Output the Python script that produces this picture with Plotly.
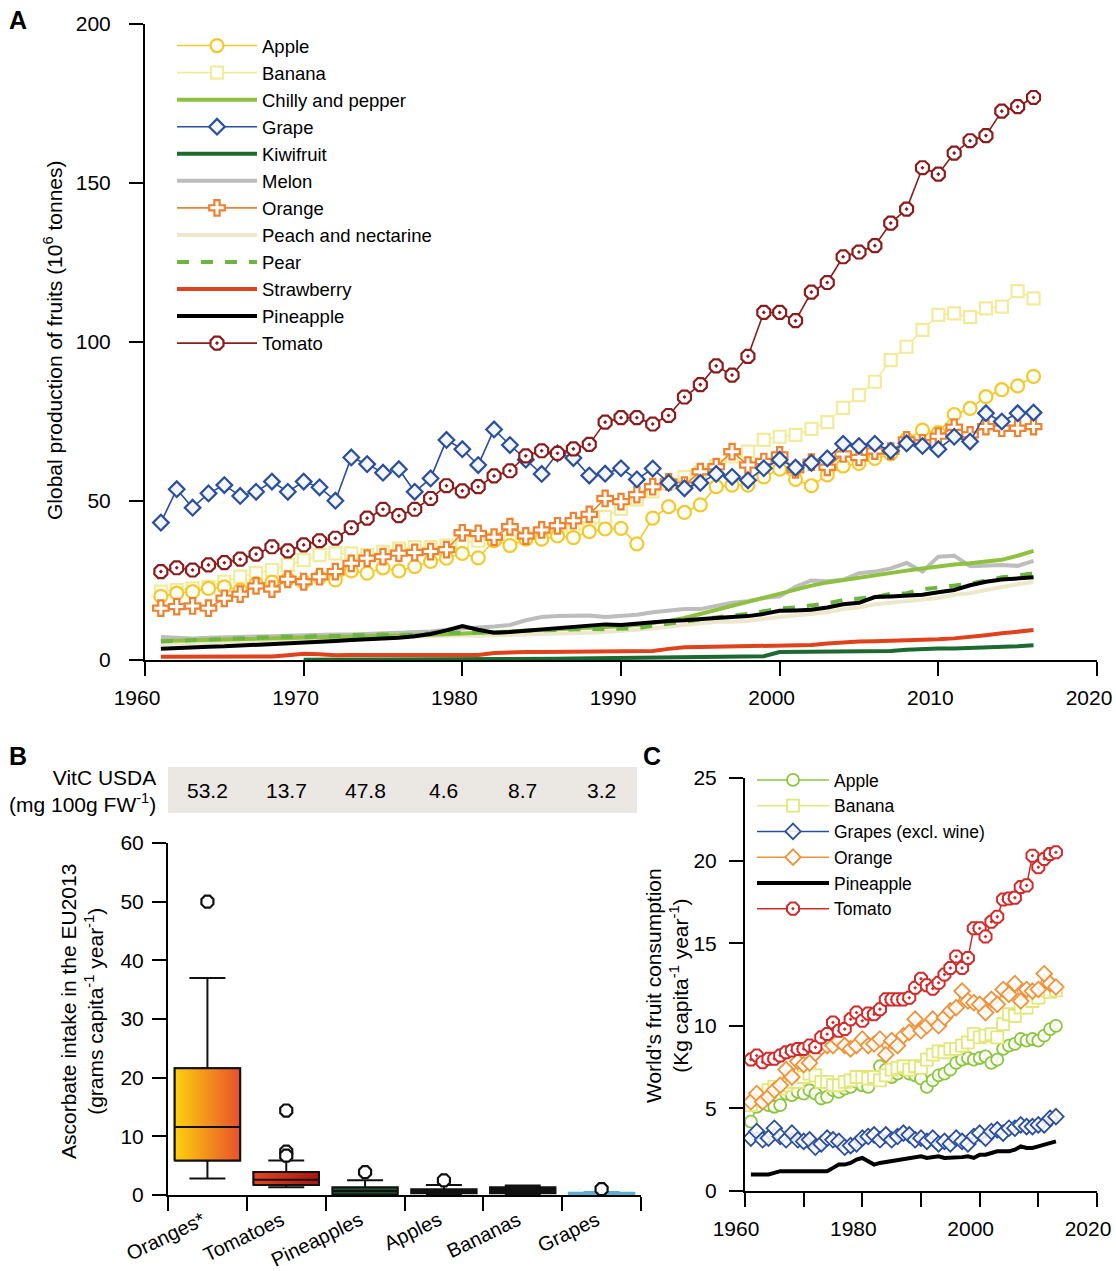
import plotly.graph_objects as go

# ---------------- DATA ----------------
years_a = list(range(1961, 2017))
apple_a = [20.0, 21.0, 21.5, 22.5, 23.0, 22.0, 24.0, 24.5, 25.5, 24.5,
           26.0, 25.2, 28.0, 27.3, 29.0, 28.0, 29.4, 31.0, 32.0, 33.5,
           32.1, 37.5, 36.0, 38.0, 38.0, 39.0, 38.5, 40.4, 41.2, 41.4,
           36.5, 44.6, 48.2, 46.4, 48.8, 54.5, 55.0, 55.0, 57.6, 60.0,
           56.8, 54.8, 58.2, 61.0, 61.8, 63.4, 64.8, 69.4, 72.3, 71.5,
           77.2, 79.1, 82.8, 85.0, 86.2, 89.2]
banana_a = [21.5, 22.0, 22.5, 23.0, 24.6, 26.2, 27.3, 28.3, 29.9, 31.4,
            33.0, 33.5, 33.5, 33.0, 34.0, 35.0, 35.5, 35.5, 36.0, 37.0,
            37.5, 38.0, 37.2, 38.5, 39.0, 40.0, 41.0, 41.5, 45.0, 47.5,
            50.5, 53.0, 55.5, 57.5, 59.0, 61.0, 64.0, 65.5, 69.2, 70.2,
            70.8, 72.7, 74.8, 79.3, 83.3, 87.5, 94.3, 98.5, 103.8, 108.5,
            109.0, 107.8, 110.6, 111.1, 116.0, 113.7]
chilly_a = [6.0, 6.1, 6.2, 6.3, 6.4, 6.5, 6.6, 6.7, 6.8, 6.9,
            7.0, 7.1, 7.2, 7.3, 7.5, 7.6, 7.7, 7.9, 8.1, 8.3,
            8.5, 8.7, 8.9, 9.1, 9.3, 9.5, 9.7, 10.0, 10.3, 10.6,
            11.0, 11.5, 12.3, 13.2, 14.5, 15.8, 17.0, 18.3, 19.8, 21.0,
            22.3, 23.4, 24.4, 25.2, 26.0, 26.8, 27.5, 28.1, 28.8, 29.5,
            30.0, 30.4, 30.9, 31.5, 32.8, 34.3]
grape_a = [43.2, 53.7, 47.9, 52.4, 55.0, 51.6, 52.9, 56.1, 52.9, 56.1,
           54.3, 50.1, 63.7, 61.6, 58.9, 60.0, 52.9, 57.1, 69.2, 66.3,
           61.3, 72.5, 67.6, 63.0, 58.5, 65.0, 63.5, 58.0, 58.6, 60.3,
           56.8, 60.2, 55.7, 54.0, 55.7, 58.5, 57.6, 56.5, 60.3, 63.0,
           60.5, 62.0, 63.4, 68.0, 67.3, 68.0, 65.8, 68.1, 67.3, 66.3,
           70.2, 68.7, 77.6, 75.0, 77.6, 77.8]
kiwi_a = [None, None, None, None, None, None, None, None, None,
          0.1, 0.1, 0.1, 0.1, 0.1, 0.1, 0.1, 0.15, 0.15, 0.2,
          0.2, 0.2, 0.25, 0.3, 0.3, 0.35, 0.4, 0.45, 0.5, 0.55,
          0.6, 0.65, 0.7, 1.0, 1.0, 1.1, 1.1, 1.1, 1.2, 1.2,
          2.5, 2.5, 2.6, 2.6, 2.6, 2.7, 2.7, 2.8, 3.2, 3.5,
          3.6, 3.6, 3.7, 3.9, 4.1, 4.3, 4.6]
melon_a = [7.2, 7.0, 6.8, 7.0, 7.2, 7.3, 7.5, 7.5, 7.6, 7.8,
           7.8, 8.0, 8.0, 8.2, 8.3, 8.5, 8.8, 9.0, 9.5, 10.0,
           10.2, 10.5, 11.0, 12.5, 13.5, 13.8, 13.8, 14.0, 13.5, 13.8,
           14.2, 15.0, 15.5, 16.0, 16.0, 17.0, 18.0, 18.5, 19.5, 20.0,
           23.0, 25.0, 24.8, 25.2, 27.3, 27.8, 28.8, 30.5, 27.8, 32.5,
           32.8, 29.5, 29.8, 29.9, 29.6, 31.2]
orange_a = [16.3, 16.8, 17.0, 16.3, 19.4, 20.7, 23.3, 22.3, 25.4, 24.6,
            26.2, 27.8, 30.4, 32.0, 32.5, 33.6, 33.8, 34.1, 34.7, 40.0,
            39.8, 38.6, 41.9, 39.0, 40.9, 42.2, 43.8, 45.8, 50.8, 49.8,
            52.0, 54.5, 56.0, 55.0, 59.2, 60.8, 65.5, 61.3, 62.4, 64.5,
            59.8, 62.2, 60.6, 64.8, 63.7, 65.7, 65.7, 69.2, 68.3, 70.4,
            73.2, 70.8, 73.4, 72.9, 72.9, 73.4]
peach_a = [5.0, 5.2, 5.3, 5.5, 5.6, 5.8, 6.0, 6.0, 6.2, 6.4,
           6.5, 6.6, 6.8, 7.0, 7.0, 7.2, 7.2, 7.3, 7.5, 7.8,
           7.6, 7.7, 7.8, 7.9, 8.0, 8.2, 8.4, 8.6, 8.8, 9.0,
           9.5, 10.0, 10.5, 11.0, 11.5, 12.0, 12.0, 12.3, 13.0, 13.5,
           14.0, 14.5, 15.0, 16.0, 16.5, 17.5, 18.0, 18.5, 19.0, 19.5,
           20.5, 21.0, 22.0, 23.0, 23.8, 24.5]
pear_a = [5.8, 6.0, 6.2, 6.3, 6.6, 6.5, 7.0, 7.2, 7.4, 7.2,
          7.6, 7.5, 7.9, 7.8, 8.0, 7.8, 8.0, 8.5, 8.7, 8.5,
          8.8, 8.5, 9.0, 9.2, 9.3, 9.5, 9.8, 9.8, 9.7, 9.8,
          10.0, 10.8, 11.5, 12.0, 12.8, 13.5, 14.0, 14.5, 15.5, 16.2,
          16.5, 17.2, 17.8, 18.9, 19.2, 19.8, 20.8, 21.0, 22.2, 22.7,
          23.5, 24.0, 25.0, 26.0, 26.5, 27.3]
strawberry_a = [1.0, 1.0, 1.0, 1.0, 1.0, 1.0, 1.0, 1.1, 1.5, 2.0,
                1.8, 1.5, 1.6, 1.6, 1.6, 1.6, 1.6, 1.5, 1.5, 1.5,
                1.6, 2.2, 2.5, 2.5, 2.5, 2.5, 2.5, 2.6, 2.6, 2.7,
                2.7, 2.8, 3.5, 4.0, 4.1, 4.2, 4.2, 4.2, 4.3, 4.5,
                4.6, 4.7, 5.2, 5.6, 5.8, 5.9, 6.0, 6.2, 6.3, 6.5,
                6.8, 7.2, 7.8, 8.4, 8.8, 9.4]
pineapple_a = [3.5, 3.8, 4.0, 4.2, 4.3, 4.5, 4.8, 5.0, 5.3, 5.6,
               5.8, 6.0, 6.3, 6.5, 6.8, 7.0, 7.5, 8.2, 9.3, 10.7,
               9.5, 8.6, 8.8, 9.2, 9.8, 10.2, 10.5, 11.0, 11.2, 11.0,
               11.5, 12.0, 12.3, 12.5, 13.0, 13.2, 13.5, 13.8, 14.5, 15.5,
               15.6, 15.8, 16.5, 17.5, 18.0, 19.8, 20.0, 20.1, 20.5, 21.3,
               22.0, 23.5, 24.6, 25.3, 25.8, 26.0]
tomato_a = [27.8, 29.0, 28.3, 29.9, 30.6, 31.7, 33.3, 35.6, 34.3, 36.2,
            37.5, 38.3, 41.6, 44.6, 47.4, 45.4, 47.4, 50.8, 54.8, 53.2,
            54.5, 57.9, 59.5, 64.2, 65.8, 65.0, 66.4, 67.8, 74.8, 76.2,
            76.2, 74.2, 76.9, 82.7, 86.6, 92.5, 89.6, 95.5, 109.3, 109.3,
            106.7, 115.7, 118.7, 126.8, 128.3, 130.3, 137.4, 141.8, 154.8, 152.8,
            159.4, 163.3, 164.9, 172.6, 174.0, 176.9]

# Panel B
box_categories = ["Oranges*", "Tomatoes", "Pineapples", "Apples", "Bananas", "Grapes"]
vitc_usda = ["53.2", "13.7", "47.8", "4.6", "8.7", "3.2"]
box_q1 = [5.9, 1.7, 0.1, 0.3, 0.3, 0.1]
box_median = [11.6, 2.6, 0.7, 0.6, 0.8, 0.25]
box_q3 = [21.6, 3.9, 1.3, 1.0, 1.3, 0.4]
box_lower = [2.8, 1.3, 0.0, 0.1, 0.1, 0.0]
box_upper = [37.0, 5.9, 2.5, 1.7, 1.6, 0.5]
box_outliers = [[50.0], [14.4, 7.4, 6.7], [3.9], [2.5], [], [1.0]]

# Panel C
years_c = list(range(1961, 2014))
apple_c = [4.2, 5.1, 5.4, 5.2, 5.1, 5.2, 5.9, 5.8, 6.0, 5.9,
           6.1, 5.9, 5.6, 5.7, 6.1, 6.0, 6.2, 6.3, 6.6, 6.4,
           6.3, 6.8, 7.55, 7.35, 6.9, 7.1, 7.35, 7.1, 7.0, 6.8,
           6.3, 6.7, 7.0, 7.1, 7.35, 7.75, 7.95, 8.05, 7.95, 8.05,
           8.15, 7.75, 7.95, 8.6, 8.8, 8.9, 9.2, 9.1, 9.2, 9.1,
           9.4, 9.8, 10.0]
banana_c = [5.2, 5.5, 5.8, 6.1, 6.3, 6.2, 6.4, 6.6, 6.6, 6.9,
            7.1, 7.0, 6.6, 6.6, 6.4, 6.4, 6.6, 6.7, 6.9, 6.9,
            6.8, 6.9, 6.7, 7.0, 7.35, 7.45, 7.55, 7.35, 7.55, 7.45,
            7.95, 8.25, 8.45, 8.4, 8.6, 8.6, 8.8, 9.0, 9.5, 9.3,
            9.4, 9.5, 9.3, 10.1, 10.7, 10.6, 11.1, 11.1, 11.5, 11.7,
            12.15, 12.05, 12.15]
grapes_c = [3.2, 3.6, 3.1, 3.2, 3.8, 3.3, 3.1, 3.5, 3.1, 3.0,
            3.1, 2.65, 2.85, 3.2, 3.1, 3.0, 2.65, 2.75, 2.85, 3.2,
            3.3, 3.4, 3.1, 3.4, 3.1, 3.3, 3.5, 3.4, 3.1, 3.2,
            3.0, 3.2, 2.85, 3.0, 2.85, 3.2, 3.0, 2.85, 3.3, 3.5,
            3.2, 3.6, 3.7, 3.5, 3.8, 3.8, 4.0, 3.9, 3.9, 4.0,
            4.0, 4.4, 4.5]
orange_c = [5.4, 5.9, 5.4, 5.7, 6.1, 6.4, 7.35, 6.9, 7.85, 7.65,
            7.75, 8.35, 8.7, 8.8, 8.8, 9.1, 8.8, 8.6, 8.8, 9.2,
            8.8, 8.9, 9.2, 8.25, 9.1, 8.8, 9.4, 9.6, 10.4, 9.7,
            10.0, 10.4, 10.0, 10.5, 10.9, 11.1, 12.1, 11.5, 11.4, 11.3,
            10.8, 11.6, 11.3, 12.2, 11.9, 12.55, 11.5, 12.2, 12.1, 12.2,
            13.15, 12.55, 12.35]
pineapple_c = [1.0, 1.0, 1.0, 1.0, 1.1, 1.2, 1.2, 1.2, 1.2, 1.2,
               1.2, 1.2, 1.2, 1.2, 1.4, 1.6, 1.6, 1.7, 1.9, 2.0,
               1.8, 1.6, 1.7, 1.75, 1.8, 1.85, 1.9, 1.95, 2.0, 2.1,
               2.0, 2.05, 2.1, 2.0, 2.0, 2.0, 2.05, 2.1, 2.0, 2.2,
               2.2, 2.3, 2.4, 2.4, 2.4, 2.5, 2.7, 2.6, 2.6, 2.7,
               2.8, 2.95, 3.0]
tomato_c = [7.96, 8.2, 7.8, 8.0, 8.0, 8.2, 8.4, 8.5, 8.6, 8.6,
            8.8, 8.7, 9.3, 9.5, 10.2, 9.7, 9.8, 10.4, 10.8, 10.3,
            10.75, 10.7, 11.0, 11.6, 11.6, 11.6, 11.6, 11.7, 12.3, 12.85,
            12.45, 12.25, 12.6, 13.1, 13.5, 14.2, 13.5, 14.1, 15.9, 15.9,
            15.4, 16.3, 16.6, 17.65, 17.7, 17.75, 18.4, 18.5, 20.3, 19.6,
            20.1, 20.4, 20.5]

# ---------------- FIGURE ----------------
W, H = 1116, 1271
FONT = "Arial, Liberation Sans, sans-serif"
FS = 21


def fx(p):
    return p / W


def fy(p):
    return 1 - p / H


fig = go.Figure()

# ---- Panel A: thick lines (drawn first) ----
thick_lines = [
    ("Kiwifruit", kiwi_a, "#1d6a30", "solid", 5),
    ("Strawberry", strawberry_a, "#e0421c", "solid", 10),
    ("Peach and nectarine", peach_a, "#ede8cc", "solid", 8),
    ("Melon", melon_a, "#bdbdbd", "solid", 6),
    ("Chilly and pepper", chilly_a, "#8dc13f", "solid", 3),
    ("Pear", pear_a, "#6cb540", "dash", 9),
    ("Pineapple", pineapple_a, "#000000", "solid", 11),
]
for name, vals, col, dash, rank in thick_lines:
    fig.add_trace(go.Scatter(
        x=years_a, y=vals, name=name, mode="lines",
        line=dict(color=col, width=4, dash=dash),
        legendrank=rank, xaxis="x", yaxis="y", legend="legend"))

marker_lines = [
    ("Banana", banana_a, "#f2ec9a", "square", "#ffffff", 12, 2),
    ("Apple", apple_a, "#f3c92e", "circle", "#fffef4", 13, 1),
    ("Orange", orange_a, "#ee8230", "cross", "#ffffff", 13, 7),
    ("Grape", grape_a, "#2b4f9e", "diamond", "#f3f7fc", 12, 4),
    ("Tomato", tomato_a, "#8a1c1c", "octagon-dot", "#ffffff", 14, 12),
]
for name, vals, col, sym, fill, size, rank in marker_lines:
    fig.add_trace(go.Scatter(
        x=years_a, y=vals, name=name, mode="lines+markers",
        line=dict(color=col, width=1.6),
        marker=dict(symbol=sym, size=size, color=fill,
                    line=dict(color=col, width=2.2)),
        legendrank=rank, xaxis="x", yaxis="y", legend="legend"))

# ---- Panel B: boxes ----
box_fill = ["rgba(0,0,0,0)", "rgba(0,0,0,0)", "#1f4a2c", "#1b1b1b", "#111111", "#a8dcec"]
box_line = ["#111111", "#111111", "#111111", "#111111", "#111111", "#5aaed0"]
BW = 0.83
for i, cat in enumerate(box_categories):
    fig.add_trace(go.Box(
        x=[i], q1=[box_q1[i]], median=[box_median[i]], q3=[box_q3[i]],
        lowerfence=[box_lower[i]], upperfence=[box_upper[i]],
        width=BW, whiskerwidth=0.55, fillcolor=box_fill[i],
        line=dict(color=box_line[i], width=2), boxpoints=False,
        showlegend=False, xaxis="x2", yaxis="y2", name=cat))

grad_scales = {0: [[0, "#fdd20c"], [1, "#e8502c"]],
               1: [[0, "#e4471c"], [1, "#a8170f"]]}
for i, cs in grad_scales.items():
    xl, xr = i - BW / 2, i + BW / 2
    fig.add_trace(go.Scatter(
        x=[xl, xr, xr, xl, xl],
        y=[box_q1[i], box_q1[i], box_q3[i], box_q3[i], box_q1[i]],
        mode="lines", fill="toself",
        fillgradient=dict(type="horizontal", colorscale=cs),
        line=dict(color="#111111", width=2),
        showlegend=False, hoverinfo="skip", xaxis="x2", yaxis="y2"))
    fig.add_trace(go.Scatter(
        x=[xl, xr], y=[box_median[i], box_median[i]], mode="lines",
        line=dict(color="#111111", width=2),
        showlegend=False, hoverinfo="skip", xaxis="x2", yaxis="y2"))

out_x, out_y = [], []
for i, outs in enumerate(box_outliers):
    for v in outs:
        out_x.append(i)
        out_y.append(v)
fig.add_trace(go.Scatter(
    x=out_x, y=out_y, mode="markers",
    marker=dict(symbol="octagon", size=13, color="#ffffff",
                line=dict(color="#111111", width=2.2)),
    showlegend=False, xaxis="x2", yaxis="y2"))

# ---- Panel C ----
c_series = [
    ("Apple", apple_c, "#8cc63e", "circle", 1),
    ("Banana", banana_c, "#e2e77a", "square", 2),
    ("Grapes (excl. wine)", grapes_c, "#2b4f9e", "diamond", 3),
    ("Orange", orange_c, "#f0923a", "diamond", 4),
]
for name, vals, col, sym, rank in c_series:
    fig.add_trace(go.Scatter(
        x=years_c, y=vals, name=name, mode="lines+markers",
        line=dict(color=col, width=1.5),
        marker=dict(symbol=sym, size=12, color="rgba(255,255,255,0.85)",
                    line=dict(color=col, width=1.8)),
        legendrank=rank, xaxis="x3", yaxis="y3", legend="legend2"))
fig.add_trace(go.Scatter(
    x=years_c, y=pineapple_c, name="Pineapple", mode="lines",
    line=dict(color="#000000", width=4), legendrank=5,
    xaxis="x3", yaxis="y3", legend="legend2"))
fig.add_trace(go.Scatter(
    x=years_c, y=tomato_c, name="Tomato", mode="lines+markers",
    line=dict(color="#d22b2b", width=1.5),
    marker=dict(symbol="octagon-dot", size=13, color="#ffffff",
                line=dict(color="#d22b2b", width=2)),
    legendrank=6, xaxis="x3", yaxis="y3", legend="legend2"))

# ---------------- LAYOUT ----------------
def axis_style(**kw):
    d = dict(showline=True, linecolor="black", linewidth=2,
             ticks="outside", ticklen=14, tickwidth=2, tickcolor="black",
             showgrid=False, zeroline=False, automargin=False,
             tickfont=dict(family=FONT, size=FS, color="black"))
    d.update(kw)
    return d


fig.update_layout(
    template="none",
    width=W, height=H, margin=dict(l=0, r=0, t=0, b=0, pad=0),
    paper_bgcolor="white", plot_bgcolor="white",
    font=dict(family=FONT, color="black"),
    hovermode="closest",
    xaxis=axis_style(domain=[fx(145), fx(1097)], range=[1960, 2020], dtick=10,
                     anchor="y", ticklabelshift=-8, ticklabelstandoff=4),
    yaxis=axis_style(domain=[fy(660), fy(24)], range=[0, 200], dtick=50,
                     anchor="x", ticklabelstandoff=14),
    xaxis2=dict(domain=[fx(168), fx(641)], range=[-0.5, 5.5], anchor="y2",
                tickmode="array", tickvals=list(range(6)), ticktext=box_categories,
                tickangle=-26, showline=True, linecolor="black", linewidth=2,
                ticks="", showgrid=False, zeroline=False, ticklabelstandoff=4,
                ticklabelshift=-5, automargin=False,
                tickfont=dict(family=FONT, size=20, color="black"),
                minor=dict(tickmode="array", tickvals=[k - 0.5 for k in range(7)],
                           ticks="outside", ticklen=14, tickwidth=2, tickcolor="black",
                           showgrid=False)),
    yaxis2=axis_style(domain=[fy(1195), fy(843)], range=[0, 60], dtick=10,
                      anchor="x2", ticklabelstandoff=4),
    xaxis3=axis_style(domain=[fx(745), fx(1097)], range=[1960, 2020], dtick=20,
                      anchor="y3", ticklabelshift=-9, ticklabelstandoff=4,
                      minor=dict(dtick=10, ticks="outside", ticklen=14, tickwidth=2,
                                 tickcolor="black", showgrid=False)),
    yaxis3=axis_style(domain=[fy(1191), fy(778)], range=[0, 25], dtick=5,
                      anchor="x3", ticklabelstandoff=8),
    legend=dict(x=fx(172), y=fy(27), xanchor="left", yanchor="top",
                bgcolor="rgba(0,0,0,0)", itemwidth=80, tracegroupgap=0,
                font=dict(family=FONT, size=18.5, color="black")),
    legend2=dict(x=fx(752), y=fy(762), xanchor="left", yanchor="top",
                 bgcolor="rgba(0,0,0,0)", itemwidth=72, tracegroupgap=0,
                 font=dict(family=FONT, size=17.5, color="black")),
    showlegend=True,
)

# VitC strip
fig.add_shape(type="rect", xref="x2", yref="paper",
              x0=-0.5, x1=5.45, y0=fy(813), y1=fy(767),
              fillcolor="#ebe7e3", line=dict(width=0), layer="below")
for i, v in enumerate(vitc_usda):
    fig.add_annotation(x=i, y=fy(790), xref="x2", yref="paper", text=v,
                       showarrow=False, xanchor="center", yanchor="middle",
                       font=dict(family=FONT, size=FS))
fig.add_annotation(x=fx(158), y=fy(791), xref="paper", yref="paper",
                   text="VitC USDA<br>(mg 100g FW<sup>-1</sup>)", align="right",
                   xanchor="right", yanchor="middle", showarrow=False,
                   font=dict(family=FONT, size=FS))

# Panel letters
for letter, px, py in [("A", 18, 20), ("B", 18, 756), ("C", 652, 756)]:
    fig.add_annotation(x=fx(px), y=fy(py), xref="paper", yref="paper", text=f"<b>{letter}</b>",
                       showarrow=False, xanchor="center", yanchor="middle",
                       font=dict(family=FONT, size=25))

# Axis titles
fig.add_annotation(x=fx(53), y=fy(340), xref="paper", yref="paper",
                   text="Global production of fruits (10<sup>6</sup> tonnes)",
                   textangle=-90, showarrow=False, xanchor="center", yanchor="middle",
                   font=dict(family=FONT, size=FS))
fig.add_annotation(x=fx(82), y=fy(1012), xref="paper", yref="paper",
                   text="Ascorbate intake in the EU2013<br>(grams capita<sup>-1</sup> year<sup>-1</sup>)",
                   textangle=-90, showarrow=False, xanchor="center", yanchor="middle",
                   font=dict(family=FONT, size=FS))
fig.add_annotation(x=fx(667), y=fy(986), xref="paper", yref="paper",
                   text="World's fruit consumption<br>(Kg capita<sup>-1</sup> year<sup>-1</sup>)",
                   textangle=-90, showarrow=False, xanchor="center", yanchor="middle",
                   font=dict(family=FONT, size=FS))

fig.write_html("out.html")
